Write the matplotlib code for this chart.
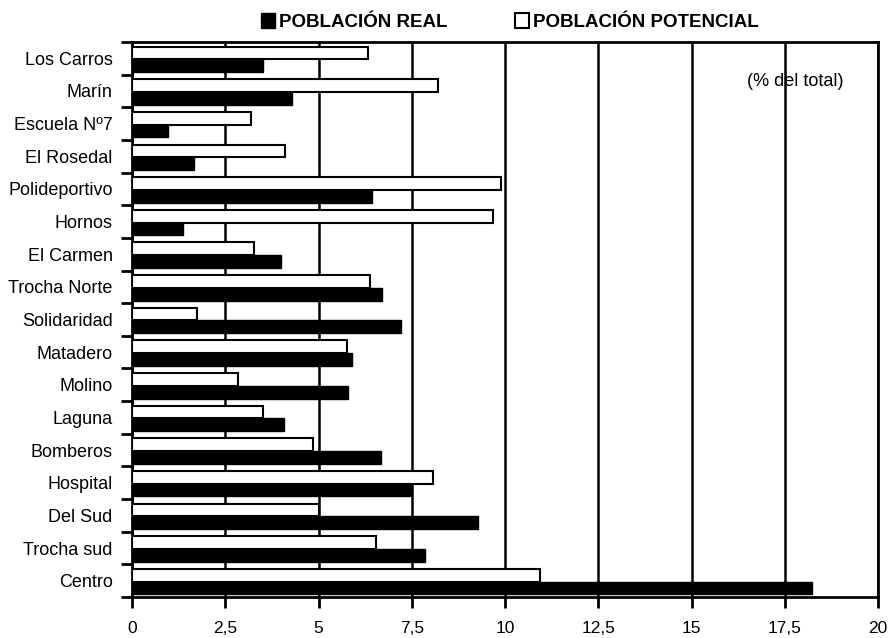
import matplotlib.pyplot as plt
import numpy as np

plt.rcParams['font.family'] = ['Liberation Sans', 'DejaVu Sans']

barrios = ["Los Carros", "Marín", "Escuela Nº7", "El Rosedal", "Polideportivo",
           "Hornos", "El Carmen", "Trocha Norte", "Solidaridad", "Matadero",
           "Molino", "Laguna", "Bomberos", "Hospital", "Del Sud", "Trocha sud",
           "Centro"]
real = [3.5, 4.3, 0.97, 1.67, 6.43, 1.37, 4.0, 6.7, 7.2, 5.9,
        5.78, 4.08, 6.68, 7.47, 9.27, 7.85, 18.23]
potencial = [6.33, 8.2, 3.2, 4.1, 9.9, 9.68, 3.27, 6.38, 1.75, 5.76,
             2.85, 3.52, 4.86, 8.06, 5.0, 6.54, 10.94]

fig = plt.figure(figsize=(8.88, 6.38), dpi=100)
ax = fig.add_axes([132/888, 1 - 597/638, (878-132)/888, (597-42)/638])

n = len(barrios)
y = np.arange(n)[::-1]  # first category at top
h = 0.39
ax.barh(y + h/2 - 0.03, potencial, height=h, color='white', edgecolor='black',
        linewidth=1.5, label='POBLACIÓN POTENCIAL', zorder=3)
ax.barh(y - h/2 - 0.03, real, height=h, color='black', edgecolor='black',
        linewidth=1.0, label='POBLACIÓN REAL', zorder=3)

ax.set_xlim(0, 20)
ax.set_ylim(-0.5, n - 0.5)
ax.set_xticks(np.arange(0, 20.1, 2.5))
ax.set_xticklabels(["0", "2,5", "5", "7,5", "10", "12,5", "15", "17,5", "20"], fontsize=12.5)
ax.set_yticks(y)
ax.set_yticklabels(barrios, fontsize=13)
ax.set_yticks(np.arange(-0.5, n, 1.0), minor=True)
ax.tick_params(axis='y', which='major', length=0, pad=14)
ax.tick_params(axis='y', which='minor', length=8, width=2, direction='out')
ax.tick_params(axis='x', length=8, width=2, direction='out', pad=9)

ax.grid(axis='x', color='black', linewidth=1.8, zorder=1)
ax.set_axisbelow(True)
for s in ax.spines.values():
    s.set_linewidth(2)

ax.text(0.889, 0.928, "(% del total)", transform=ax.transAxes, fontsize=13,
        ha='center', va='center', zorder=5)

hd, lb = ax.get_legend_handles_labels()
leg = fig.legend([hd[1], hd[0]], [lb[1], lb[0]], loc='center', ncol=2,
                 bbox_to_anchor=(510/888, 1 - 22/638), frameon=False,
                 prop={'weight': 'bold', 'size': 13.5}, handlelength=0.75,
                 handleheight=0.85, handletextpad=0.2, columnspacing=3.6)

plt.savefig('out.png', dpi=100)
